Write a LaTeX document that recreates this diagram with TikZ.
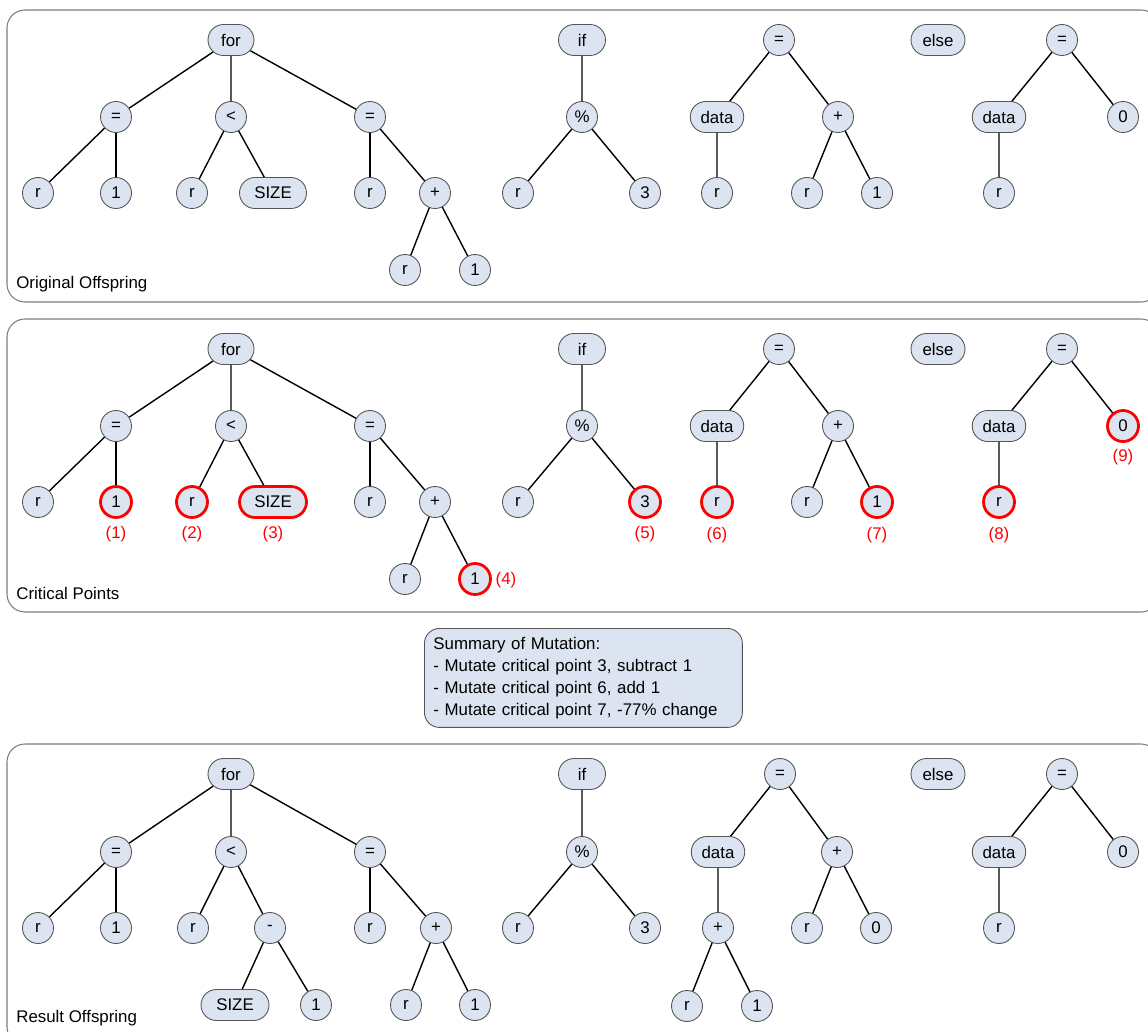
\documentclass[tikz,border=0pt]{standalone}
\usepackage{fontspec}
\setmainfont{Liberation Sans}
\usetikzlibrary{shapes.misc}
\definecolor{nodefill}{RGB}{221,228,241}
\definecolor{nodeline}{RGB}{85,85,85}
\definecolor{panelline}{RGB}{125,125,125}
\definecolor{critred}{RGB}{255,0,0}

\begin{document}
\begin{tikzpicture}[x=0.02cm,y=-0.02cm,
  every node/.style={font=\fontsize{9.6}{12.5}\selectfont},
  tn/.style={circle,draw=nodeline,fill=nodefill,line width=0.5pt,minimum size=0.62cm,inner sep=0pt},
  wn/.style={rounded rectangle,draw=nodeline,fill=nodefill,line width=0.5pt,minimum height=0.62cm,inner sep=0pt,minimum width=#1},
  crit/.style={draw=critred,line width=1.6pt},
  cl/.style={text=critred,inner sep=0pt},
  edge/.style={line width=0.8pt},
  panel/.style={draw=panelline,line width=0.6pt,rounded corners=0.36cm},
  plabel/.style={anchor=west,inner sep=0pt}]

\path[use as bounding box,clip] (0,0) rectangle (1148,1031);

% ---------- panels ----------
\draw[panel] (7,10) rectangle (1159,302);
\draw[panel] (7,319) rectangle (1159,612);
\draw[panel] (7,744) rectangle (1159,1045);

\node[plabel] (lab-a) at (16,284) {Original Offspring};
\node[plabel] (lab-b) at (16,593) {Critical Points};
\node[plabel] (lab-c) at (16,1018) {Result Offspring};

% ---------- original offspring ----------
\node[wn=0.92cm] (a-for) at (231,40) {for};
\node[tn] (a-eq1) at (116,117) {=};
\node[tn] (a-lt) at (231,117) {<};
\node[tn] (a-eq2) at (370,117) {=};
\node[tn] (a-r1) at (38,193) {r};
\node[tn] (a-one1) at (116,193) {1};
\node[tn] (a-r2) at (192,193) {r};
\node[wn=1.34cm] (a-size) at (273,193) {SIZE};
\node[tn] (a-r3) at (370,193) {r};
\node[tn] (a-plus) at (435,193) {+};
\node[tn] (a-r4) at (405,270) {r};
\node[tn] (a-one2) at (475,270) {1};
\node[wn=0.94cm] (a-if) at (582,40) {if};
\node[tn] (a-mod) at (582,117) {\%};
\node[tn] (a-r5) at (518,193) {r};
\node[tn] (a-three) at (645,193) {3};
\node[tn] (a-eqB) at (779,40) {=};
\node[wn=1.07cm] (a-data) at (717,117) {data};
\node[tn] (a-plusB) at (838,117) {+};
\node[tn] (a-r6) at (717,193) {r};
\node[tn] (a-r7) at (807,193) {r};
\node[tn] (a-one3) at (877,193) {1};
\node[wn=1.08cm] (a-else) at (938,40) {else};
\node[tn] (a-eqC) at (1062,40) {=};
\node[wn=1.07cm] (a-dataC) at (999,117) {data};
\node[tn] (a-zero) at (1123,117) {0};
\node[tn] (a-r8) at (999,193) {r};

\begin{scope}[edge]
\draw (a-for) -- (a-eq1); \draw (a-for) -- (a-lt); \draw (a-for) -- (a-eq2);
\draw (a-eq1) -- (a-r1); \draw (a-eq1) -- (a-one1);
\draw (a-lt) -- (a-r2); \draw (a-lt) -- (a-size);
\draw (a-eq2) -- (a-r3); \draw (a-eq2) -- (a-plus);
\draw (a-plus) -- (a-r4); \draw (a-plus) -- (a-one2);
\draw (a-if) -- (a-mod);
\draw (a-mod) -- (a-r5); \draw (a-mod) -- (a-three);
\draw (a-eqB) -- (a-data); \draw (a-eqB) -- (a-plusB);
\draw (a-data) -- (a-r6);
\draw (a-plusB) -- (a-r7); \draw (a-plusB) -- (a-one3);
\draw (a-eqC) -- (a-dataC); \draw (a-eqC) -- (a-zero);
\draw (a-dataC) -- (a-r8);
\end{scope}

% ---------- critical points ----------
\node[wn=0.92cm] (b-for) at (231,349) {for};
\node[tn] (b-eq1) at (116,426) {=};
\node[tn] (b-lt) at (231,426) {<};
\node[tn] (b-eq2) at (370,426) {=};
\node[tn] (b-r1) at (38,502) {r};
\node[tn,crit] (b-one1) at (116,502) {1};
\node[tn,crit] (b-r2) at (192,502) {r};
\node[wn=1.34cm,crit] (b-size) at (273,502) {SIZE};
\node[tn] (b-r3) at (370,502) {r};
\node[tn] (b-plus) at (435,502) {+};
\node[tn] (b-r4) at (405,579) {r};
\node[tn,crit] (b-one2) at (475,579) {1};
\node[wn=0.94cm] (b-if) at (582,349) {if};
\node[tn] (b-mod) at (582,426) {\%};
\node[tn] (b-r5) at (518,502) {r};
\node[tn,crit] (b-three) at (645,502) {3};
\node[tn] (b-eqB) at (779,349) {=};
\node[wn=1.07cm] (b-data) at (717,426) {data};
\node[tn] (b-plusB) at (838,426) {+};
\node[tn,crit] (b-r6) at (717,502) {r};
\node[tn] (b-r7) at (807,502) {r};
\node[tn,crit] (b-one3) at (877,502) {1};
\node[wn=1.08cm] (b-else) at (938,349) {else};
\node[tn] (b-eqC) at (1062,349) {=};
\node[wn=1.07cm] (b-dataC) at (999,426) {data};
\node[tn,crit] (b-zero) at (1123,426) {0};
\node[tn,crit] (b-r8) at (999,502) {r};

\begin{scope}[edge]
\draw (b-for) -- (b-eq1); \draw (b-for) -- (b-lt); \draw (b-for) -- (b-eq2);
\draw (b-eq1) -- (b-r1); \draw (b-eq1) -- (b-one1);
\draw (b-lt) -- (b-r2); \draw (b-lt) -- (b-size);
\draw (b-eq2) -- (b-r3); \draw (b-eq2) -- (b-plus);
\draw (b-plus) -- (b-r4); \draw (b-plus) -- (b-one2);
\draw (b-if) -- (b-mod);
\draw (b-mod) -- (b-r5); \draw (b-mod) -- (b-three);
\draw (b-eqB) -- (b-data); \draw (b-eqB) -- (b-plusB);
\draw (b-data) -- (b-r6);
\draw (b-plusB) -- (b-r7); \draw (b-plusB) -- (b-one3);
\draw (b-eqC) -- (b-dataC); \draw (b-eqC) -- (b-zero);
\draw (b-dataC) -- (b-r8);
\end{scope}

\node[cl] (c1) at (116,534) {(1)};
\node[cl] (c2) at (192,534) {(2)};
\node[cl] (c3) at (273,534) {(3)};
\node[cl] (c4) at (506,580) {(4)};
\node[cl] (c5) at (645,534) {(5)};
\node[cl] (c6) at (717,535) {(6)};
\node[cl] (c7) at (877,535) {(7)};
\node[cl] (c8) at (999,535) {(8)};
\node[cl] (c9) at (1123,457) {(9)};

% ---------- mutation summary ----------
\node[draw=nodeline,fill=nodefill,line width=0.5pt,rounded corners=0.3cm,
      anchor=north west,align=left,text width=6.0cm,inner xsep=0.18cm,
      minimum height=1.98cm] (summary) at (424,628)
  {Summary of Mutation:\\
   - Mutate critical point 3, subtract 1\\
   - Mutate critical point 6, add 1\\
   - Mutate critical point 7, -77\% change};

% ---------- result offspring ----------
\node[wn=0.92cm] (c-for) at (231,774) {for};
\node[tn] (c-eq1) at (116,852) {=};
\node[tn] (c-lt) at (231,852) {<};
\node[tn] (c-eq2) at (370,852) {=};
\node[tn] (c-r1) at (38,928) {r};
\node[tn] (c-one1) at (116,928) {1};
\node[tn] (c-r2) at (193,928) {r};
\node[tn] (c-minus) at (270,928) {-};
\node[wn=1.36cm] (c-size) at (235,1005) {SIZE};
\node[tn] (c-oneM) at (316,1005) {1};
\node[tn] (c-r3) at (370,928) {r};
\node[tn] (c-plus) at (436,928) {+};
\node[tn] (c-r4) at (406,1005) {r};
\node[tn] (c-one2) at (475,1005) {1};
\node[wn=0.94cm] (c-if) at (582,774) {if};
\node[tn] (c-mod) at (582,852) {\%};
\node[tn] (c-r5) at (518,928) {r};
\node[tn] (c-three) at (645,928) {3};
\node[tn] (c-eqB) at (780,774) {=};
\node[wn=1.07cm] (c-data) at (718,852) {data};
\node[tn] (c-plusB) at (837,852) {+};
\node[tn] (c-plusD) at (718,928) {+};
\node[tn] (c-rD) at (687,1006) {r};
\node[tn] (c-oneD) at (757,1006) {1};
\node[tn] (c-r7) at (807,928) {r};
\node[tn] (c-zeroB) at (876,928) {0};
\node[wn=1.08cm] (c-else) at (938,774) {else};
\node[tn] (c-eqC) at (1062,774) {=};
\node[wn=1.07cm] (c-dataC) at (999,852) {data};
\node[tn] (c-zero) at (1123,852) {0};
\node[tn] (c-r8) at (999,928) {r};

\begin{scope}[edge]
\draw (c-for) -- (c-eq1); \draw (c-for) -- (c-lt); \draw (c-for) -- (c-eq2);
\draw (c-eq1) -- (c-r1); \draw (c-eq1) -- (c-one1);
\draw (c-lt) -- (c-r2); \draw (c-lt) -- (c-minus);
\draw (c-minus) -- (c-size); \draw (c-minus) -- (c-oneM);
\draw (c-eq2) -- (c-r3); \draw (c-eq2) -- (c-plus);
\draw (c-plus) -- (c-r4); \draw (c-plus) -- (c-one2);
\draw (c-if) -- (c-mod);
\draw (c-mod) -- (c-r5); \draw (c-mod) -- (c-three);
\draw (c-eqB) -- (c-data); \draw (c-eqB) -- (c-plusB);
\draw (c-data) -- (c-plusD);
\draw (c-plusD) -- (c-rD); \draw (c-plusD) -- (c-oneD);
\draw (c-plusB) -- (c-r7); \draw (c-plusB) -- (c-zeroB);
\draw (c-eqC) -- (c-dataC); \draw (c-eqC) -- (c-zero);
\draw (c-dataC) -- (c-r8);
\end{scope}

\end{tikzpicture}
\end{document}
